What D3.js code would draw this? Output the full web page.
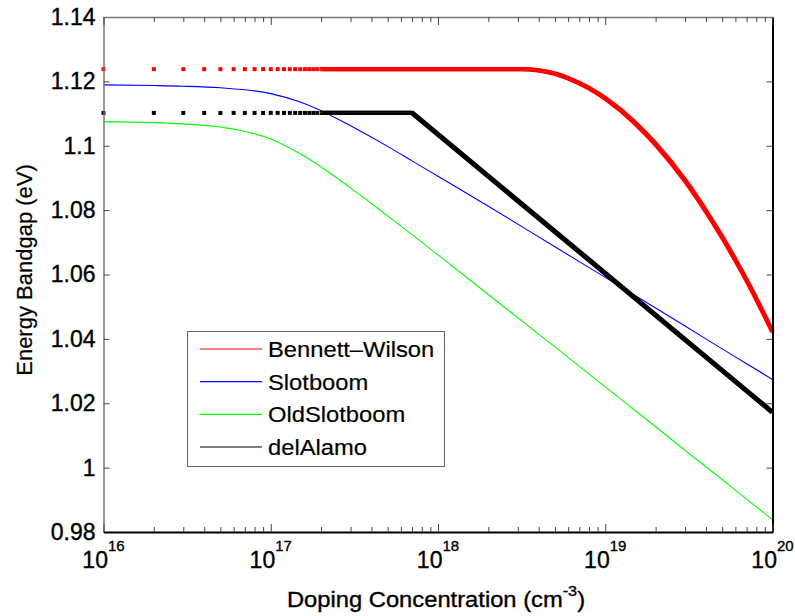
<!DOCTYPE html>
<html>
<head>
<meta charset="utf-8">
<script src="https://cdn.jsdelivr.net/npm/d3@7"></script>
<style>
  body { margin: 0; background: #fff; }
  svg text { font-family: "Liberation Sans", Arial, sans-serif; fill: #000; stroke: #000; stroke-width: 0.35px; }
</style>
</head>
<body>
<script>
// doping values (cm^-3) and bandgap values (eV)
const dopingBW = [1e16, 2e16, 3e16, 4e16, 5e16, 6e16, 7e16, 8e16, 9e16, 1e17,
  1.1e17, 1.2e17, 1.3e17, 1.4e17, 1.5e17, 1.6e17, 1.7e17, 1.8e17, 1.9e17, 2e17,
  3e17, 5e17, 1e18, 2e18, 3.16e18, 4e18, 5e18, 6e18, 8e18, 1e19, 1.5e19, 2e19,
  3e19, 4e19, 5e19, 6e19, 7e19, 8e19, 9e19, 1e20];
const bandgapBW = [1.1238, 1.1238, 1.1238, 1.1238, 1.1238, 1.1238, 1.1238, 1.1238, 1.1238, 1.1238,
  1.1238, 1.1238, 1.1238, 1.1238, 1.1238, 1.1238, 1.1238, 1.1238, 1.1238, 1.1238,
  1.1238, 1.1238, 1.1238, 1.1238, 1.1238, 1.1234, 1.1224, 1.1210, 1.1179, 1.1147, 1.1072, 1.1005,
  1.0892, 1.0797, 1.0716, 1.0645, 1.0582, 1.0524, 1.0471, 1.0422];

const dopingDA = [1e16, 2e16, 3e16, 4e16, 5e16, 6e16, 7e16, 8e16, 9e16, 1e17,
  1.1e17, 1.2e17, 1.3e17, 1.4e17, 1.5e17, 1.6e17, 1.7e17, 1.8e17, 1.9e17, 2e17,
  7e17, 1e20];
const bandgapDA = [1.1102, 1.1102, 1.1102, 1.1102, 1.1102, 1.1102, 1.1102, 1.1102, 1.1102, 1.1102,
  1.1102, 1.1102, 1.1102, 1.1102, 1.1102, 1.1102, 1.1102, 1.1102, 1.1102, 1.1102,
  1.1102, 1.0172];

const dopingSB = [1e16, 2e16, 3e16, 5e16, 1e17, 1.5e17, 2e17, 3e17, 5e17, 7e17,
  1e18, 2e18, 5e18, 1e19, 2e19, 3e19, 5e19, 7e19, 1e20];
const bandgapSlot = [1.1189, 1.1187, 1.1185, 1.1180, 1.1162, 1.1136, 1.1109, 1.1062, 1.0998, 1.0953,
  1.0905, 1.0812, 1.0686, 1.0591, 1.0496, 1.0440, 1.0369, 1.0323, 1.0274];
const bandgapOldSlot = [1.1075, 1.1072, 1.1068, 1.1058, 1.1021, 1.0975, 1.0934, 1.0869, 1.0782, 1.0724,
  1.0661, 1.0538, 1.0375, 1.0251, 1.0127, 1.0054, 0.9963, 0.9902, 0.9838];

const yTicks = [0.98, 1, 1.02, 1.04, 1.06, 1.08, 1.1, 1.12, 1.14];
const xMajor = [1e16, 1e17, 1e18, 1e19, 1e20];
const xExponents = ["16", "17", "18", "19", "20"];
const xMinor = [];
for (let e = 16; e < 20; e++) {
  for (let m = 2; m <= 9; m++) xMinor.push(m * Math.pow(10, e));
}

const legendNames = ["Bennett\u2013Wilson", "Slotboom", "OldSlotboom", "delAlamo"];
const legendColors = ["#ff0000", "#0000ff", "#00ff00", "#000000"];

let width = 795;
let height = 616;
let plotLeft = 103.5, plotRight = 772.5, plotTop = 17, plotBottom = 532;

let svg = d3.select("body").append("svg")
  .attr("width", width)
  .attr("height", height);

let x = d3.scaleLog().domain([1e16, 1e20]).range([plotLeft, plotRight]);
let y = d3.scaleLinear().domain([0.98, 1.14]).range([plotBottom, plotTop]);

// dotted part: the markers stay apart below 2e17, then merge into a band
let dotLimit = 2e17;

let lineSmooth = d3.line()
  .x((d) => x(d[0]))
  .y((d) => y(d[1]))
  .curve(d3.curveMonotoneX);
let lineStraight = d3.line()
  .x((d) => x(d[0]))
  .y((d) => y(d[1]));

let plot = svg.append("g");

// thin lines
plot.append("path")
  .attr("d", lineSmooth(d3.zip(dopingSB, bandgapOldSlot)))
  .attr("fill", "none")
  .attr("stroke", "#00ff00")
  .attr("stroke-width", 1.1);
plot.append("path")
  .attr("d", lineSmooth(d3.zip(dopingSB, bandgapSlot)))
  .attr("fill", "none")
  .attr("stroke", "#0000ff")
  .attr("stroke-width", 1.1);

// marker series (delAlamo, Bennett-Wilson): square markers that merge into a band
let penOffsets = [[-1.1, -1.1], [1.1, -1.1], [-1.1, 1.1], [1.1, 1.1]];
function markerSeries(xs, ys, color, lineGen) {
  let pts = d3.zip(xs, ys);
  plot.append("g")
    .selectAll("rect")
    .data(pts.filter((d) => d[0] < dotLimit))
    .enter()
    .append("rect")
    .attr("x", (d) => x(d[0]) - 2)
    .attr("y", (d) => y(d[1]) - 2)
    .attr("width", 4)
    .attr("height", 4)
    .attr("fill", color);
  let d = lineGen(pts.filter((p) => p[0] >= dotLimit));
  plot.append("g")
    .selectAll("path")
    .data(penOffsets)
    .enter()
    .append("path")
    .attr("transform", (o) => "translate(" + o[0] + "," + o[1] + ")")
    .attr("d", d)
    .attr("fill", "none")
    .attr("stroke", color)
    .attr("stroke-width", 2)
    .attr("stroke-linejoin", "round");
}
markerSeries(dopingDA, bandgapDA, "#000000", lineStraight);
markerSeries(dopingBW, bandgapBW, "#ff0000", lineSmooth);

// axes
let yFormat = (d) => String(+d.toFixed(2));

let gLeft = svg.append("g")
  .attr("transform", "translate(" + plotLeft + ",0)")
  .call(d3.axisLeft(y).tickValues(yTicks).tickSize(-6).tickSizeOuter(0).tickPadding(8).tickFormat(yFormat));
let gRight = svg.append("g")
  .attr("transform", "translate(" + plotRight + ",0)")
  .call(d3.axisRight(y).tickValues(yTicks).tickSize(-6).tickSizeOuter(0).tickFormat(""));
let gBottom = svg.append("g")
  .attr("transform", "translate(0," + plotBottom + ")")
  .call(d3.axisBottom(x).tickValues(xMajor).tickSize(-8).tickSizeOuter(0).tickFormat(""));
let gBottomMinor = svg.append("g")
  .attr("transform", "translate(0," + plotBottom + ")")
  .call(d3.axisBottom(x).tickValues(xMinor).tickSize(-5).tickSizeOuter(0).tickFormat(""));
let gTop = svg.append("g")
  .attr("transform", "translate(0," + plotTop + ")")
  .call(d3.axisTop(x).tickValues(xMajor).tickSize(-8).tickSizeOuter(0).tickFormat(""));
let gTopMinor = svg.append("g")
  .attr("transform", "translate(0," + plotTop + ")")
  .call(d3.axisTop(x).tickValues(xMinor).tickSize(-5).tickSizeOuter(0).tickFormat(""));

[gLeft, gRight, gBottom, gBottomMinor, gTop, gTopMinor].forEach((g) => {
  g.selectAll(".tick line").attr("stroke", "#444").attr("stroke-width", 1);
});
gBottomMinor.select(".domain").remove();
gTopMinor.select(".domain").remove();
gLeft.select(".domain").attr("stroke", "#777").attr("stroke-width", 1.5);
gTop.select(".domain").attr("stroke", "#777").attr("stroke-width", 1.5);
gBottom.select(".domain").attr("stroke", "#000").attr("stroke-width", 2);
gRight.select(".domain").attr("stroke", "#000").attr("stroke-width", 2);

gLeft.selectAll("text")
  .attr("font-size", 23)
  .attr("font-family", "'Liberation Sans', Arial, sans-serif");

// x tick labels as 10 with a superscript exponent
let xLabels = svg.append("g");
xMajor.forEach((v, i) => {
  let t = xLabels.append("text")
    .attr("x", x(v))
    .attr("y", 568)
    .attr("text-anchor", "middle")
    .attr("font-size", 23);
  t.append("tspan").text("10");
  t.append("tspan").attr("font-size", 15).attr("dy", -17).text(xExponents[i]);
});

// axis titles
let xTitle = svg.append("text")
  .attr("transform", "translate(436,607) scale(1.08,1)")
  .attr("text-anchor", "middle")
  .attr("font-size", 22);
xTitle.append("tspan").text("Doping Concentration (cm");
xTitle.append("tspan").attr("font-size", 15).attr("dy", -11).text("-3");
xTitle.append("tspan").attr("dy", 11).text(")");

svg.append("text")
  .attr("transform", "translate(32,270) rotate(-90)")
  .attr("text-anchor", "middle")
  .attr("font-size", 22)
  .style("stroke-width", "0.2px")
  .text("Energy Bandgap (eV)");

// legend
let legend = svg.append("g");
legend.append("rect")
  .attr("x", 187.5)
  .attr("y", 331.5)
  .attr("width", 257)
  .attr("height", 135)
  .attr("fill", "#fff")
  .attr("stroke", "#666")
  .attr("stroke-width", 1);

let legendY = d3.scalePoint().domain(legendNames).range([349, 447]);
legendNames.forEach((name, i) => {
  legend.append("line")
    .attr("x1", 200)
    .attr("x2", 262)
    .attr("y1", legendY(name))
    .attr("y2", legendY(name))
    .attr("stroke", legendColors[i])
    .attr("stroke-width", 1.2);
  legend.append("text")
    .attr("transform", "translate(268," + (legendY(name) + 8) + ") scale(1.08,1)")
    .attr("font-size", 22)
    .style("stroke-width", "0.2px")
    .text(name);
});
</script>
</body>
</html>
